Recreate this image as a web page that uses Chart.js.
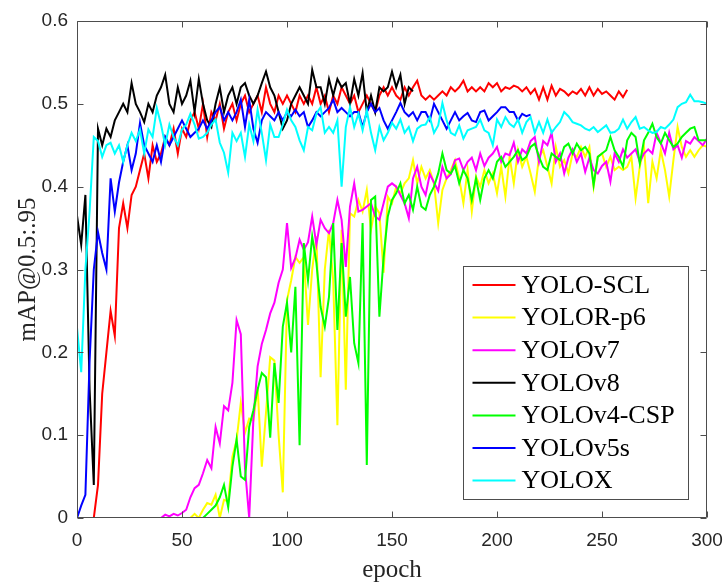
<!DOCTYPE html>
<html>
<head>
<meta charset="utf-8">
<script src="https://cdn.jsdelivr.net/npm/chart.js@4.4.1/dist/chart.umd.min.js"></script>
<style>
  html, body { margin: 0; padding: 0; background: #fff; }
  #wrap { width: 725px; height: 585px; }
</style>
</head>
<body>
<div id="wrap"><canvas id="map" width="725" height="585"></canvas></div>
<script>
// one sample every 2 epochs
const epochs = Array.from({ length: 151 }, (_, i) => i * 2);
const xTicks = [0, 50, 100, 150, 200, 250, 300];
const yTicks = [0, 0.1, 0.2, 0.3, 0.4, 0.5, 0.6];

const seriesNames = ['YOLO-SCL', 'YOLOR-p6', 'YOLOv7', 'YOLOv8', 'YOLOv4-CSP', 'YOLOv5s', 'YOLOX'];
const seriesColors = ['#ff0000', '#ffff00', '#ff00ff', '#000000', '#00ff00', '#0000ff', '#00ffff'];

// YOLO-SCL, epochs 0..262
const yoloScl = [
  0, 0, 0, 0, 0, 0.04, 0.15, 0.2, 0.25, 0.22,
  0.35, 0.38, 0.35, 0.39, 0.4, 0.42, 0.44, 0.41, 0.45, 0.43,
  0.44, 0.46, 0.45, 0.47, 0.44, 0.47, 0.46, 0.48, 0.49, 0.47,
  0.5, 0.46, 0.49, 0.48, 0.5, 0.47, 0.49, 0.5, 0.48, 0.5,
  0.51, 0.49, 0.5, 0.51, 0.49, 0.52, 0.5, 0.49, 0.51, 0.5,
  0.51, 0.5, 0.49, 0.51, 0.5, 0.51, 0.5, 0.52, 0.5, 0.51,
  0.49, 0.51, 0.5, 0.52, 0.51, 0.5, 0.51, 0.49, 0.5, 0.51,
  0.5, 0.49, 0.51, 0.52, 0.51, 0.52, 0.51, 0.505, 0.52, 0.51,
  0.52, 0.528, 0.51, 0.505, 0.51, 0.505, 0.51, 0.515, 0.51, 0.52,
  0.515, 0.52, 0.528, 0.515, 0.52, 0.515, 0.52, 0.515, 0.525, 0.52,
  0.525, 0.515, 0.52, 0.518, 0.522, 0.52, 0.515, 0.52, 0.512, 0.518,
  0.505, 0.52, 0.505, 0.522, 0.51, 0.518, 0.515, 0.51, 0.515, 0.512,
  0.518, 0.51, 0.52, 0.51, 0.518, 0.512, 0.515, 0.51, 0.505, 0.515,
  0.508, 0.517
];

// YOLOR-p6, epochs 0..300
const yolorP6 = [
  0, 0, 0, 0, 0, 0, 0, 0, 0, 0,
  0, 0, 0, 0, 0, 0, 0, 0, 0, 0,
  0, 0, 0, 0, 0, 0, 0, 0, 0.005, 0,
  0.01, 0.018, 0.016, 0.028, 0, 0.022, 0.02, 0.074, 0.094, 0.139,
  0.103, 0.12, 0.118, 0.158, 0.062, 0.127, 0.194, 0.19, 0.1, 0.031,
  0.263, 0.287, 0.315, 0.308, 0.315, 0.233, 0.3, 0.34, 0.17, 0.3,
  0.348, 0.287, 0.112, 0.348, 0.155, 0.368, 0.364, 0.384, 0.37, 0.396,
  0.348, 0.376, 0.368, 0.296, 0.388, 0.38, 0.4, 0.392, 0.404, 0.41,
  0.432, 0.404, 0.424, 0.41, 0.42, 0.404, 0.356, 0.396, 0.41, 0.42,
  0.432, 0.41, 0.38, 0.42, 0.37, 0.412, 0.4, 0.42, 0.404, 0.416,
  0.392, 0.424, 0.388, 0.436, 0.404, 0.444, 0.424, 0.436, 0.416, 0.394,
  0.436, 0.444, 0.424, 0.404, 0.448, 0.424, 0.432, 0.416, 0.44, 0.436,
  0.448, 0.436, 0.448, 0.4, 0.436, 0.44, 0.424, 0.436, 0.42, 0.424,
  0.42, 0.424, 0.436, 0.386, 0.424, 0.448, 0.38, 0.43, 0.41, 0.444,
  0.42, 0.388, 0.432, 0.472, 0.448, 0.436, 0.444, 0.436, 0.444, 0.45,
  0.448
];

// YOLOv7, epochs 0..300
const yolov7 = [
  0, 0, 0, 0, 0, 0, 0, 0, 0, 0,
  0, 0, 0, 0, 0, 0, 0, 0, 0, 0,
  0, 0.004, 0.002, 0.005, 0.003, 0.006, 0.01, 0.025, 0.036, 0.04,
  0.054, 0.07, 0.06, 0.11, 0.09, 0.135, 0.13, 0.163, 0.239, 0.222,
  0.06, 0, 0.12, 0.183, 0.21, 0.227, 0.247, 0.26, 0.284, 0.3,
  0.356, 0.302, 0.314, 0.336, 0.324, 0.333, 0.364, 0.33, 0.36, 0.35,
  0.344, 0.356, 0.384, 0.36, 0.303, 0.376, 0.404, 0.37, 0.372, 0.376,
  0.38, 0.364, 0.36, 0.38, 0.4, 0.404, 0.4, 0.39, 0.38, 0.362,
  0.41, 0.424, 0.4, 0.39, 0.415, 0.405, 0.395, 0.424, 0.41, 0.415,
  0.432, 0.434, 0.42, 0.43, 0.435, 0.42, 0.44, 0.425, 0.435, 0.44,
  0.448, 0.43, 0.44, 0.438, 0.453, 0.43, 0.445, 0.44, 0.455, 0.46,
  0.43, 0.455, 0.45, 0.465, 0.43, 0.44, 0.416, 0.435, 0.445, 0.43,
  0.44, 0.418, 0.435, 0.42, 0.416, 0.425, 0.43, 0.406, 0.44, 0.43,
  0.445, 0.435, 0.44, 0.445, 0.43, 0.44, 0.445, 0.44, 0.465, 0.453,
  0.44, 0.465, 0.445, 0.45, 0.435, 0.455, 0.452, 0.46, 0.455, 0.45,
  0.458
];

// YOLOv8, epochs 0..160
const yolov8 = [
  0.365, 0.33, 0.39, 0.155, 0.04, 0.47, 0.45, 0.47, 0.46, 0.48,
  0.49, 0.5, 0.49, 0.525, 0.5, 0.49, 0.478, 0.5, 0.49, 0.51,
  0.52, 0.535, 0.5, 0.49, 0.52, 0.5, 0.51, 0.528, 0.49, 0.53,
  0.5, 0.48, 0.472, 0.5, 0.52, 0.49, 0.51, 0.52, 0.5, 0.52,
  0.525, 0.51, 0.5, 0.51, 0.525, 0.539, 0.52, 0.51, 0.49, 0.47,
  0.48, 0.5, 0.51, 0.52, 0.51, 0.5, 0.541, 0.52, 0.52, 0.5,
  0.53, 0.51, 0.53, 0.52, 0.525, 0.5, 0.53, 0.51, 0.537, 0.49,
  0.51, 0.49, 0.52, 0.515, 0.52, 0.539, 0.52, 0.535, 0.5, 0.52,
  0.515
];

// YOLOv4-CSP, epochs 0..300
const yolov4Csp = [
  0, 0, 0, 0, 0, 0, 0, 0, 0, 0,
  0, 0, 0, 0, 0, 0, 0, 0, 0, 0,
  0, 0, 0, 0, 0, 0, 0, 0, 0, 0,
  0, 0.005, 0.01, 0.015, 0.025, 0.04, 0.013, 0.062, 0.095, 0.05,
  0.046, 0.11, 0.13, 0.155, 0.175, 0.17, 0.097, 0.187, 0.139, 0.231,
  0.26, 0.2, 0.279, 0.088, 0.332, 0.287, 0.34, 0.308, 0.255, 0.231,
  0.267, 0.356, 0.227, 0.332, 0.243, 0.291, 0.211, 0.187, 0.356, 0.064,
  0.384, 0.388, 0.243, 0.315, 0.364, 0.384, 0.392, 0.404, 0.38, 0.39,
  0.372, 0.4, 0.376, 0.372, 0.39, 0.4, 0.416, 0.44, 0.42, 0.416,
  0.425, 0.404, 0.42, 0.41, 0.384, 0.41, 0.384, 0.41, 0.42, 0.41,
  0.43, 0.436, 0.424, 0.43, 0.436, 0.444, 0.432, 0.436, 0.448, 0.452,
  0.436, 0.424, 0.42, 0.44, 0.436, 0.432, 0.448, 0.452, 0.44, 0.452,
  0.444, 0.448, 0.44, 0.402, 0.436, 0.44, 0.444, 0.46, 0.444, 0.436,
  0.424, 0.456, 0.465, 0.46, 0.428, 0.456, 0.465, 0.476, 0.46, 0.452,
  0.465, 0.456, 0.448, 0.452, 0.46, 0.465, 0.47, 0.472, 0.456, 0.456,
  0.456
];

// YOLOv5s, epochs 0..216
const yolov5s = [
  0, 0.015, 0.028, 0.19, 0.3, 0.345, 0.32, 0.3, 0.41, 0.37,
  0.405, 0.43, 0.45, 0.42, 0.44, 0.477, 0.45, 0.44, 0.43, 0.45,
  0.43, 0.46, 0.45, 0.46, 0.47, 0.48, 0.47, 0.46, 0.465, 0.47,
  0.48, 0.47, 0.48, 0.49, 0.496, 0.48, 0.49, 0.48, 0.49, 0.505,
  0.472, 0.505, 0.47, 0.453, 0.48, 0.49, 0.485, 0.48, 0.49, 0.48,
  0.49, 0.485, 0.493, 0.485, 0.49, 0.472, 0.48, 0.49, 0.485, 0.49,
  0.495, 0.505, 0.49, 0.495, 0.49, 0.485, 0.49, 0.49, 0.472, 0.49,
  0.5, 0.49, 0.495, 0.48, 0.47, 0.48, 0.49, 0.501, 0.49, 0.485,
  0.49, 0.48, 0.49, 0.49, 0.48, 0.5, 0.49, 0.48, 0.47, 0.48,
  0.49, 0.48, 0.485, 0.489, 0.48, 0.478, 0.49, 0.492, 0.48, 0.485,
  0.49, 0.496, 0.496, 0.49, 0.49, 0.48, 0.488, 0.485, 0.487
];

// YOLOX, epochs 0..300
const yolox = [
  0.23, 0.176, 0.3, 0.37, 0.46, 0.455, 0.436, 0.45, 0.453, 0.44,
  0.45, 0.43, 0.45, 0.465, 0.455, 0.469, 0.44, 0.469, 0.46, 0.495,
  0.475, 0.45, 0.475, 0.46, 0.45, 0.469, 0.475, 0.488, 0.475, 0.458,
  0.46, 0.465, 0.475, 0.481, 0.453, 0.441, 0.417, 0.465, 0.455, 0.465,
  0.436, 0.475, 0.455, 0.493, 0.465, 0.432, 0.475, 0.46, 0.46, 0.475,
  0.493, 0.48, 0.472, 0.456, 0.444, 0.472, 0.468, 0.488, 0.496, 0.465,
  0.472, 0.465, 0.48, 0.4, 0.472, 0.496, 0.472, 0.488, 0.468, 0.492,
  0.465, 0.444, 0.472, 0.456, 0.465, 0.477, 0.47, 0.481, 0.465, 0.472,
  0.455, 0.47, 0.474, 0.475, 0.484, 0.465, 0.474, 0.501, 0.48, 0.465,
  0.462, 0.474, 0.458, 0.468, 0.47, 0.472, 0.481, 0.468, 0.465, 0.45,
  0.481, 0.472, 0.484, 0.476, 0.472, 0.481, 0.465, 0.478, 0.484, 0.465,
  0.478, 0.465, 0.481, 0.465, 0.472, 0.478, 0.49, 0.485, 0.478, 0.476,
  0.474, 0.47, 0.468, 0.472, 0.466, 0.47, 0.474, 0.465, 0.466, 0.47,
  0.481, 0.47, 0.478, 0.484, 0.47, 0.472, 0.468, 0.465, 0.466, 0.472,
  0.47, 0.475, 0.481, 0.496, 0.5, 0.502, 0.511, 0.503, 0.503, 0.502,
  0.5
];

const seriesValues = [yoloScl, yolorP6, yolov7, yolov8, yolov4Csp, yolov5s, yolox];

const SANS = '"Liberation Sans", Arial, Helvetica, sans-serif';
const SERIF = '"Liberation Serif", "Times New Roman", serif';
const AXIS_GREY = '#4d4d4d';

// matlab style box with inward ticks on all four sides
const frameBox = {
  id: 'frameBox',
  afterDatasetsDraw(chart) {
    const { ctx, chartArea: a, scales } = chart;
    const L = Math.round(a.left) + 0.5, R = Math.round(a.right) - 0.5;
    const T = Math.round(a.top) + 0.5, B = Math.round(a.bottom) - 0.5;
    const tl = 6;
    ctx.save();
    ctx.strokeStyle = AXIS_GREY;
    ctx.lineWidth = 1;
    ctx.beginPath();
    ctx.rect(L, T, R - L, B - T);
    xTicks.forEach((v) => {
      const px = Math.round(scales.x.getPixelForValue(v)) + 0.5;
      ctx.moveTo(px, B); ctx.lineTo(px, B - tl);
      ctx.moveTo(px, T); ctx.lineTo(px, T + tl);
    });
    yTicks.forEach((v) => {
      const py = Math.round(scales.y.getPixelForValue(v)) + 0.5;
      ctx.moveTo(L, py); ctx.lineTo(L + tl, py);
      ctx.moveTo(R, py); ctx.lineTo(R - tl, py);
    });
    ctx.stroke();
    ctx.restore();
  },
};

// legend box inside the plot, lower right
const boxLegend = {
  id: 'boxLegend',
  afterDraw(chart) {
    const { ctx } = chart;
    const x0 = 463.5, y0 = 266.5, w = 225, h = 233;
    ctx.save();
    ctx.fillStyle = '#fff';
    ctx.fillRect(x0, y0, w, h);
    ctx.strokeStyle = AXIS_GREY;
    ctx.lineWidth = 1;
    ctx.strokeRect(x0, y0, w, h);
    ctx.font = '26px ' + SERIF;
    ctx.textBaseline = 'middle';
    ctx.textAlign = 'left';
    chart.data.datasets.forEach((ds, i) => {
      const yy = y0 + 18.5 + i * 32.6;
      ctx.strokeStyle = ds.borderColor;
      ctx.lineWidth = 2;
      ctx.beginPath();
      ctx.moveTo(x0 + 9, yy);
      ctx.lineTo(x0 + 52, yy);
      ctx.stroke();
      ctx.fillStyle = '#000';
      ctx.fillText(ds.label, x0 + 58, yy + 1);
    });
    ctx.restore();
  },
};

const datasets = seriesNames.map((name, i) => ({
  label: name,
  data: seriesValues[i].map((v, j) => ({ x: epochs[j], y: v })),
  borderColor: seriesColors[i],
  backgroundColor: seriesColors[i],
  borderWidth: 2,
  pointRadius: 0,
  tension: 0,
  fill: false,
  order: seriesNames.length - i,
}));

new Chart(document.getElementById('map'), {
  type: 'line',
  data: { datasets },
  options: {
    responsive: false,
    animation: false,
    devicePixelRatio: 1,
    layout: { padding: { top: 21, right: 18, left: 0, bottom: 0 } },
    plugins: {
      legend: { display: false },
      tooltip: { enabled: false },
    },
    scales: {
      x: {
        type: 'linear',
        min: 0,
        max: 300,
        afterBuildTicks: (s) => { s.ticks = xTicks.map((v) => ({ value: v })); },
        afterFit: (s) => {
          s.height = 67;
          s.paddingLeft = 0;
          s.paddingRight = 0;
        },
        ticks: {
          font: { family: SANS, size: 19 },
          color: '#262626',
          padding: 11,
          maxRotation: 0,
          callback: (v) => String(v),
        },
        grid: { display: false, drawTicks: false },
        border: { display: false },
        title: {
          display: true,
          text: 'epoch',
          font: { family: SERIF, size: 25, lineHeight: 1 },
          color: '#262626',
          padding: { top: 0, bottom: 2.5 },
        },
      },
      y: {
        type: 'linear',
        min: 0,
        max: 0.6,
        afterBuildTicks: (s) => { s.ticks = yTicks.map((v) => ({ value: v })); },
        afterFit: (s) => {
          s.width = 77;
          s.paddingTop = 0;
          s.paddingBottom = 0;
        },
        ticks: {
          font: { family: SANS, size: 19 },
          color: '#262626',
          padding: 9,
          callback: (v) => (v === 0 ? '0' : v.toFixed(1)),
        },
        grid: { display: false, drawTicks: false },
        border: { display: false },
        title: {
          display: true,
          text: 'mAP@0.5:.95',
          font: { family: SERIF, size: 25, lineHeight: 1 },
          color: '#262626',
          padding: { top: 16, bottom: 0 },
        },
      },
    },
  },
  plugins: [frameBox, boxLegend],
});
</script>
</body>
</html>
